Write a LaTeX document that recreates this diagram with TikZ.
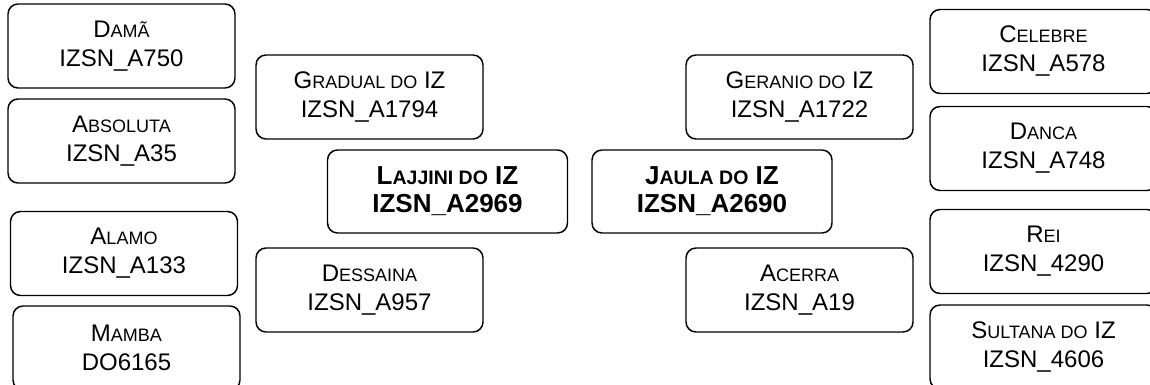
\documentclass[tikz,border=0pt]{standalone}
\usepackage{fontspec}
\setmainfont{Liberation Sans}
\newcommand\smc[1]{\scalebox{0.75}{#1}}
\tikzset{
  horse/.style={draw=black, line width=1.1pt, rounded corners=7.5pt, inner sep=0pt,
    minimum width=170.25pt, minimum height=63pt, align=center,
    font=\fontsize{18pt}{21.75pt}\selectfont},
  mainhorse/.style={horse, minimum width=180pt, minimum height=62.25pt,
    font=\fontsize{19.5pt}{21pt}\selectfont\bfseries},
}
\begin{document}
\begin{tikzpicture}[x=0.75pt,y=-0.75pt]
\useasboundingbox (0,0) rectangle (1150,385);
\clip (0,0) rectangle (1150,385);
% left grandparents
\node[horse] (dama) at (121.5,46) {D\smc{AMÃ}\\IZSN\_A750};
\node[horse] (absoluta) at (121.5,141) {A\smc{BSOLUTA}\\IZSN\_A35};
\node[horse] (alamo) at (124,253.5) {A\smc{LAMO}\\IZSN\_A133};
\node[horse] (mamba) at (126.5,348) {M\smc{AMBA}\\DO6165};
% left parents
\node[horse] (gradual) at (369.5,97) {G\smc{RADUAL DO} IZ\\IZSN\_A1794};
\node[horse] (dessaina) at (369.5,290) {D\smc{ESSAINA}\\IZSN\_A957};
\node[mainhorse] (lajjini) at (447.5,191.5) {L\smc{AJJINI DO} IZ\\IZSN\_A2969};
% right side
\node[mainhorse] (jaula) at (712,191.5) {J\smc{AULA DO} IZ\\IZSN\_A2690};
\node[horse] (geranio) at (799.5,97) {G\smc{ERANIO DO} IZ\\IZSN\_A1722};
\node[horse] (acerra) at (799.5,290) {A\smc{CERRA}\\IZSN\_A19};
\node[horse] (celebre) at (1043.5,51.5) {C\smc{ELEBRE}\\IZSN\_A578};
\node[horse] (danca) at (1043.5,148.5) {D\smc{ANCA}\\IZSN\_A748};
\node[horse] (rei) at (1043.5,251.5) {R\smc{EI}\\IZSN\_4290};
\node[horse] (sultana) at (1043.5,347) {S\smc{ULTANA DO} IZ\\IZSN\_4606};
\end{tikzpicture}
\end{document}
